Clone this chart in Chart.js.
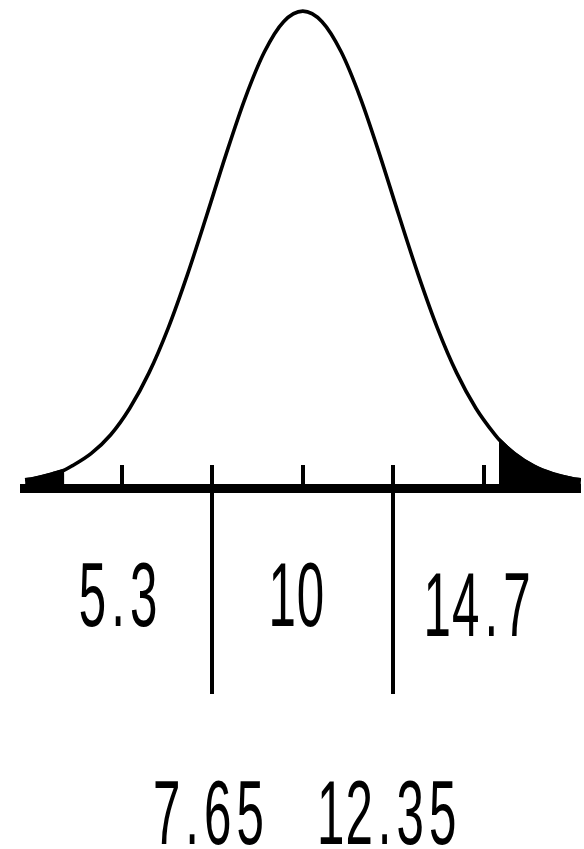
<!DOCTYPE html>
<html>
<head>
<meta charset="utf-8">
<script src="https://cdn.jsdelivr.net/npm/chart.js@4"></script>
<style>
  html, body { margin: 0; padding: 0; background: #ffffff; }
  #wrap { position: relative; width: 584px; height: 849px; }
</style>
</head>
<body>
<div id="wrap"><canvas id="c"></canvas></div>
<script>
// Normal curve, mean 10, sd 2.35: x positions and density heights
const curveX = [2.78, 3.0, 3.5, 3.8, 4.0, 4.5, 5.0, 5.5, 6.0, 6.5, 7.0, 7.5, 8.0, 8.5, 9.0, 9.5, 10.0,
                10.5, 11.0, 11.5, 12.0, 12.5, 13.0, 13.5, 14.0, 14.5, 15.0, 15.1, 15.5, 16.0, 16.5, 17.0, 17.23];
const curveY = [0.0015, 0.0020, 0.0037, 0.0050, 0.0065, 0.0110, 0.0176, 0.0272, 0.0399, 0.0560, 0.0752, 0.0964, 0.1182, 0.1385, 0.1551, 0.1660, 0.1698,
                0.1660, 0.1551, 0.1385, 0.1182, 0.0964, 0.0752, 0.0560, 0.0399, 0.0272, 0.0176, 0.0160, 0.0110, 0.0065, 0.0037, 0.0020, 0.0015];

// Shaded tails
const leftTailEnd = 3.8;
const rightTailStart = 15.1;

// Axis tick marks and their labels
const tickValues = [5.3, 7.65, 10, 12.35, 14.7];
const tickLabels = ['5.3', '7.65', '10', '12.35', '14.7'];
// Ticks that carry a long divider line, labelled on the lower row
const dividerValues = [7.65, 12.35];

const toPoints = (xs, ys) => xs.map((x, i) => ({ x: x, y: ys[i] }));
const curvePts = toPoints(curveX, curveY);
const leftTail = curvePts.filter(p => p.x <= leftTailEnd);
const rightTail = curvePts.filter(p => p.x >= rightTailStart);

// Draws a label one glyph at a time, stretched tall, with a narrow "1"
function drawLabel(ctx, text, cx, base, o) {
  const glyphs = text.split('').map(ch => {
    const w = ctx.measureText(ch).width * o.sx;
    const narrow = ch === '1';
    return { ch, shift: narrow ? -o.oneShift : 0, adv: w + o.spacing - (narrow ? o.oneTrim : 0) };
  });
  const total = glyphs.reduce((s, g) => s + g.adv, 0) - o.spacing;
  let x = cx - total / 2;
  glyphs.forEach(g => {
    ctx.save();
    ctx.translate(x + g.shift, base);
    ctx.scale(o.sx, o.sy);
    ctx.fillText(g.ch, 0, 0);
    ctx.restore();
    x += g.adv;
  });
}

const axisPlugin = {
  id: 'axisMarks',
  afterDatasetsDraw(chart, args, opts) {
    const ctx = chart.ctx;
    const xs = chart.scales.x, ys = chart.scales.y;
    const area = chart.chartArea;
    const y0 = Math.round(ys.getPixelForValue(0));
    ctx.save();
    ctx.fillStyle = '#000';
    // base line
    ctx.fillRect(area.left, y0, area.right - area.left, opts.axisWidth);
    // tick marks and dividers
    tickValues.forEach(v => {
      const px = Math.round(xs.getPixelForValue(v));
      const bottom = dividerValues.includes(v) ? opts.dividerBottom : y0;
      ctx.fillRect(px - opts.tickWidth / 2, y0 - opts.tickLength, opts.tickWidth, bottom - (y0 - opts.tickLength));
    });
    // labels
    ctx.font = opts.fontPx + 'px ' + opts.fontFamily;
    ctx.textAlign = 'left';
    ctx.textBaseline = 'alphabetic';
    tickLabels.forEach((t, i) => {
      const v = tickValues[i];
      const px = xs.getPixelForValue(v);
      let base = dividerValues.includes(v) ? opts.lowerBaseline : opts.upperBaseline;
      base += (opts.shift[t] || 0);
      drawLabel(ctx, t, px - opts.labelNudge, base, opts);
    });
    ctx.restore();
  }
};

new Chart(document.getElementById('c'), {
  type: 'line',
  data: {
    datasets: [
      {
        data: leftTail,
        borderColor: '#000', backgroundColor: '#000', borderWidth: 3,
        fill: 'origin', pointRadius: 0, tension: 0.3
      },
      {
        data: rightTail,
        borderColor: '#000', backgroundColor: '#000', borderWidth: 3,
        fill: 'origin', pointRadius: 0, tension: 0.3
      },
      {
        data: curvePts,
        borderColor: '#000', borderWidth: 3.6,
        fill: false, pointRadius: 0, cubicInterpolationMode: 'monotone'
      }
    ]
  },
  options: {
    responsive: true,
    maintainAspectRatio: false,
    animation: false,
    events: [],
    layout: { padding: { left: 20, right: 3, top: 5, bottom: 360.5 } },
    scales: {
      x: { type: 'linear', min: 2.647, max: 17.233, display: false },
      y: { type: 'linear', min: -0.00162, max: 0.172, display: false }
    },
    plugins: {
      legend: { display: false },
      tooltip: { enabled: false },
      axisMarks: {
        axisWidth: 9,
        tickWidth: 4,
        tickLength: 19,
        dividerBottom: 694,
        fontPx: 44,
        fontFamily: '"Liberation Sans", Arial, sans-serif',
        spacing: 5,
        sx: 1.12,
        sy: 2.05,
        oneShift: 5,
        oneTrim: 9,
        labelNudge: 4,
        upperBaseline: 626,
        lowerBaseline: 844,
        shift: { '14.7': 10 }
      }
    }
  },
  plugins: [axisPlugin]
});
</script>
</body>
</html>
